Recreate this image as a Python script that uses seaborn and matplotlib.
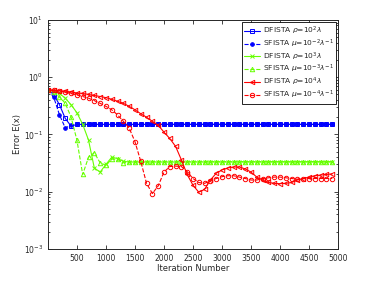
import numpy as np
import pandas as pd
import matplotlib
matplotlib.use("Agg")
import matplotlib.pyplot as plt
import seaborn as sns

# iterations (marker every 100)
iters = np.arange(0, 5000, 100)

blue_d = [0.6, 0.5, 0.33, 0.19, 0.14] + [0.15] * 45
blue_s = [0.6, 0.45, 0.22, 0.13, 0.145] + [0.15] * 45
green_d = [0.6, 0.58, 0.52, 0.43, 0.33, 0.24, 0.15, 0.08, 0.026, 0.022,
           0.03, 0.04, 0.038, 0.034] + [0.033] * 36
green_s = [0.6, 0.55, 0.45, 0.35, 0.2, 0.08, 0.02, 0.04, 0.048, 0.032,
           0.029, 0.037, 0.037, 0.032] + [0.0335] * 36
red_d = [0.6, 0.59, 0.58, 0.57, 0.55, 0.53, 0.52, 0.5, 0.48, 0.46,
         0.44, 0.41, 0.38, 0.35, 0.31, 0.27, 0.23, 0.2, 0.17, 0.145,
         0.11, 0.085, 0.062, 0.036, 0.02, 0.013, 0.0098, 0.011, 0.016, 0.021,
         0.024, 0.026, 0.027, 0.027, 0.025, 0.022, 0.018, 0.016, 0.0145, 0.014,
         0.0138, 0.014, 0.0145, 0.016, 0.017, 0.018, 0.019, 0.0195, 0.02, 0.0205]
red_s = [0.6, 0.59, 0.57, 0.55, 0.52, 0.49, 0.46, 0.43, 0.39, 0.35,
         0.31, 0.27, 0.22, 0.17, 0.13, 0.075, 0.034, 0.014, 0.0093, 0.0126,
         0.022, 0.0275, 0.028, 0.0275, 0.0224, 0.017, 0.0145, 0.014, 0.0155, 0.017,
         0.0183, 0.019, 0.019, 0.018, 0.017, 0.016, 0.016, 0.017, 0.0175, 0.018,
         0.018, 0.0175, 0.017, 0.0165, 0.0168, 0.017, 0.017, 0.017, 0.017, 0.017]

labels = [r"DFISTA $\rho$=10$^2\lambda$",
          r"SFISTA $\mu$=10$^{-2}\lambda^{-1}$",
          r"DFISTA $\rho$=10$^3\lambda$",
          r"SFISTA $\mu$=10$^{-3}\lambda^{-1}$",
          r"DFISTA $\rho$=10$^4\lambda$",
          r"SFISTA $\mu$=10$^{-4}\lambda^{-1}$"]
series = [blue_d, blue_s, green_d, green_s, red_d, red_s]
colors = ["#0000ff", "#0000ff", "#66ff00", "#66ff00", "#ff0000", "#ff0000"]
markers = ["s", "o", "x", "^", "<", "o"]
dashes = ["-", "--", "-", "--", "-", "--"]
fills = [False, True, False, False, False, False]

sns.set_style("ticks")
plt.rcParams["font.family"] = ["DejaVu Sans"]
plt.rcParams["mathtext.fontset"] = "dejavusans"

fig = plt.figure(figsize=(3.74, 2.81), dpi=100)
ax = fig.add_axes([0.128, 0.114, 0.776, 0.815])

for lab, vals, c, m, ls, f in zip(labels, series, colors, markers, dashes, fills):
    df = pd.DataFrame({"iter": iters, "err": vals})
    sns.lineplot(data=df, x="iter", y="err", ax=ax, color=c, marker=m,
                 linestyle=ls, linewidth=0.8, markersize=2.6 if f else 3.2,
                 markerfacecolor=c if f else "none", markeredgecolor=c,
                 markeredgewidth=0.7, label=lab)

ax.set_yscale("log")
ax.set_ylim(1e-3, 1e1)
ax.set_xlim(0, 5000)
ax.set_xticks([500, 1000, 1500, 2000, 2500, 3000, 3500, 4000, 4500, 5000])
ax.tick_params(axis="both", which="both", direction="in", top=True, right=True,
               labelsize=5.5, width=0.6)
ax.tick_params(which="major", length=3)
ax.tick_params(which="minor", length=1.5)
for s in ax.spines.values():
    s.set_linewidth(0.7)
ax.set_xlabel("Iteration Number", fontsize=6, labelpad=1)
ax.set_ylabel("Error E(x)", fontsize=6, labelpad=1)

leg = ax.legend(loc="upper right", fontsize=5.4, frameon=True, fancybox=False,
                edgecolor="black", framealpha=1, handlelength=2.2,
                borderpad=0.3, labelspacing=0.08, handletextpad=0.3,
                borderaxespad=0.3)
leg.get_frame().set_linewidth(0.6)

fig.savefig("out.png", dpi=100)
